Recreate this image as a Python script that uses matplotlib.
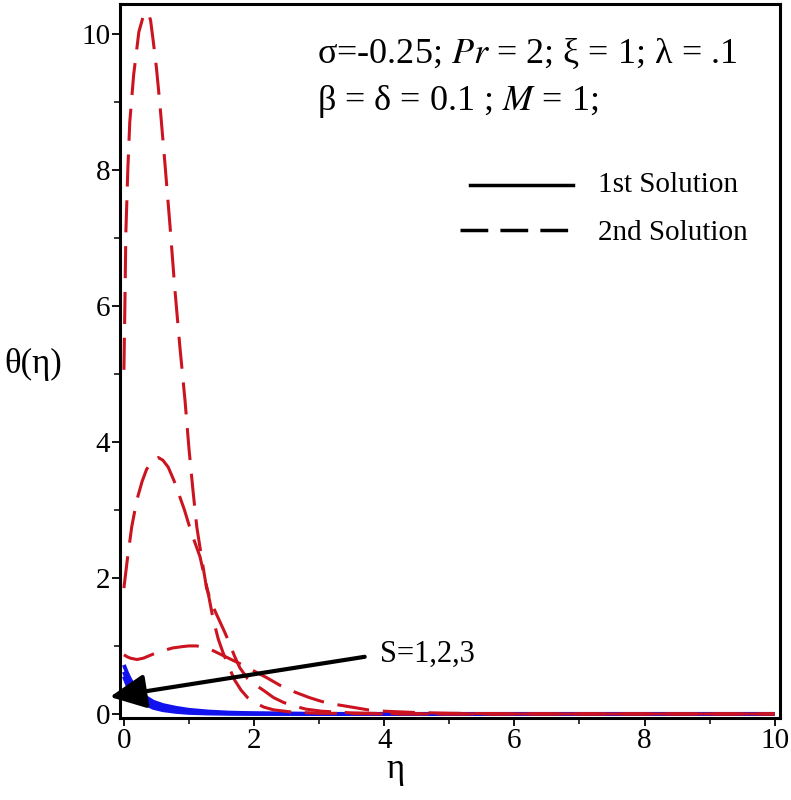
import matplotlib
matplotlib.use("Agg")
import matplotlib.pyplot as plt

plt.rcParams['font.family'] = ['Liberation Serif', 'DejaVu Serif']
plt.rcParams['mathtext.fontset'] = 'stix'

# ---- data ----
eta_b1 = [0, 0.05, 0.1, 0.2, 0.3, 0.45, 0.6, 0.8, 1.0, 1.3, 1.6, 2.0, 3.0, 10]
theta_b1 = [0.72, 0.6, 0.5, 0.36, 0.27, 0.18, 0.13, 0.09, 0.06, 0.035, 0.02, 0.01, 0.0, 0.0]
eta_b2 = [0, 0.05, 0.1, 0.2, 0.3, 0.45, 0.6, 0.8, 1.0, 1.3, 1.6, 2.0, 3.0, 10]
theta_b2 = [0.62, 0.5, 0.41, 0.29, 0.21, 0.13, 0.09, 0.06, 0.04, 0.02, 0.01, 0.005, 0.0, 0.0]
eta_b3 = [0, 0.05, 0.1, 0.2, 0.3, 0.45, 0.6, 0.8, 1.0, 1.3, 1.6, 2.0, 3.0, 10]
theta_b3 = [0.55, 0.43, 0.34, 0.23, 0.16, 0.09, 0.055, 0.03, 0.015, 0.006, 0.002, 0.0, 0.0, 0.0]

eta_rA = [0, 0.015, 0.03, 0.06, 0.09, 0.15, 0.23, 0.3, 0.37, 0.41, 0.45, 0.5, 0.55,
          0.63, 0.71, 0.78, 0.86, 0.94, 1.0, 1.06, 1.12, 1.2, 1.27, 1.35, 1.43, 1.55,
          1.63, 1.7, 1.78, 1.9, 2.0, 2.14, 2.3, 2.45, 2.6, 2.8, 3.04, 3.5, 4.0, 5.0, 10]
theta_rA = [5.06, 6.0, 7.07, 8.0, 8.7, 9.4, 10.03, 10.27, 10.32, 10.2, 9.9, 9.5, 9.0,
            8.1, 7.16, 6.28, 5.4, 4.6, 3.9, 3.3, 2.75, 2.26, 1.85, 1.62, 1.45, 1.2,
            1.02, 0.85, 0.68, 0.52, 0.44, 0.35, 0.24, 0.17, 0.12, 0.07, 0.04, 0.015, 0.005, 0.0, 0.0]
eta_rB = [0, 0.05, 0.12, 0.2, 0.28, 0.35, 0.45, 0.53, 0.6, 0.68, 0.77, 0.86, 0.93,
          1.0, 1.08, 1.17, 1.23, 1.29, 1.37, 1.45, 1.52, 1.6, 1.7, 1.8, 1.9, 1.98,
          2.15, 2.3, 2.6, 3.0, 4.0, 10]
theta_rB = [1.85, 2.25, 2.75, 3.15, 3.42, 3.6, 3.73, 3.77, 3.73, 3.63, 3.43, 3.19, 3.0,
            2.78, 2.55, 2.31, 2.05, 1.8, 1.4, 1.1, 0.91, 0.72, 0.5, 0.35, 0.24, 0.18,
            0.1, 0.06, 0.025, 0.01, 0.0, 0.0]
eta_rC = [0, 0.05, 0.1, 0.2, 0.3, 0.4, 0.5, 0.6, 0.75, 0.9, 1.0, 1.12, 1.25, 1.35,
          1.5, 1.65, 1.78, 2.0, 2.2, 2.4, 2.63, 2.85, 3.05, 3.25, 3.5, 3.75, 4.0,
          4.5, 5.0, 6.0, 10]
theta_rC = [0.87, 0.84, 0.82, 0.8, 0.82, 0.86, 0.9, 0.93, 0.97, 0.99, 1.0, 1.0, 0.97, 0.94,
            0.87, 0.8, 0.74, 0.63, 0.53, 0.42, 0.32, 0.24, 0.18, 0.14, 0.1, 0.06, 0.04,
            0.02, 0.01, 0.0, 0.0]

xticks = [0, 2, 4, 6, 8, 10]
yticks = [0, 2, 4, 6, 8, 10]
legend_labels = ['1st Solution', '2nd Solution']

fig = plt.figure(figsize=(7.91, 8.0), dpi=100)
ax = fig.add_axes([0.1517, 0.1025, 0.8343, 0.8925])

blue = '#1212ee'
red = '#cc1420'
for e, t in [(eta_b1, theta_b1), (eta_b2, theta_b2), (eta_b3, theta_b3)]:
    ax.plot(e, t, color=blue, lw=2.8, solid_capstyle='butt', solid_joinstyle='round')
for e, t in [(eta_rA, theta_rA), (eta_rB, theta_rB), (eta_rC, theta_rC)]:
    ax.plot(e, t, color=red, lw=2.2, dashes=(10.5, 4.5))

ax.set_xlim(-0.06, 10.08)
ax.set_ylim(-0.06, 10.44)
ax.set_xticks(xticks)
ax.set_yticks(yticks)
ax.set_xticks([1, 3, 5, 7, 9], minor=True)
ax.set_yticks([1, 3, 5, 7, 9], minor=True)
ax.tick_params(which='major', direction='out', length=6, width=1.3, labelsize=21, pad=1)
ax.tick_params(which='minor', direction='out', length=4, width=1.1)
for s in ax.spines.values():
    s.set_linewidth(2.2)

fig.text(0.0417, 0.544, 'θ(η)', fontsize=25, ha='center', va='center')
fig.text(0.4995, 0.038, 'η', fontsize=25, ha='center', va='center')

ax.text(0.298, 0.917, r'σ=-0.25; $Pr$ = 2; ξ = 1; λ = .1', transform=ax.transAxes,
        fontsize=26, ha='left', va='baseline')
ax.text(0.298, 0.852, r'β = δ = 0.1 ; $M$ = 1;', transform=ax.transAxes,
        fontsize=26, ha='left', va='baseline')

# legend drawn in axes coordinates
ax.plot([0.530, 0.686], [0.7465, 0.7465], color='k', lw=2.5, transform=ax.transAxes)
ax.plot([0.515, 0.686], [0.6835, 0.6835], color='k', lw=2.5, dashes=(8, 3.5),
        transform=ax.transAxes)
ax.text(0.724, 0.7367, legend_labels[0], transform=ax.transAxes, fontsize=21,
        ha='left', va='baseline')
ax.text(0.724, 0.6695, legend_labels[1], transform=ax.transAxes, fontsize=21,
        ha='left', va='baseline')

ax.annotate('', xy=(-0.215, 0.25), xytext=(3.7, 0.84),
            arrowprops=dict(arrowstyle='-|>,head_length=2.2,head_width=1.05',
                            color='k', lw=3, shrinkA=0, shrinkB=0),
            annotation_clip=False)
ax.text(3.93, 0.87, 'S=1,2,3', fontsize=22, ha='left', va='center')

fig.savefig('out.png', dpi=100)
